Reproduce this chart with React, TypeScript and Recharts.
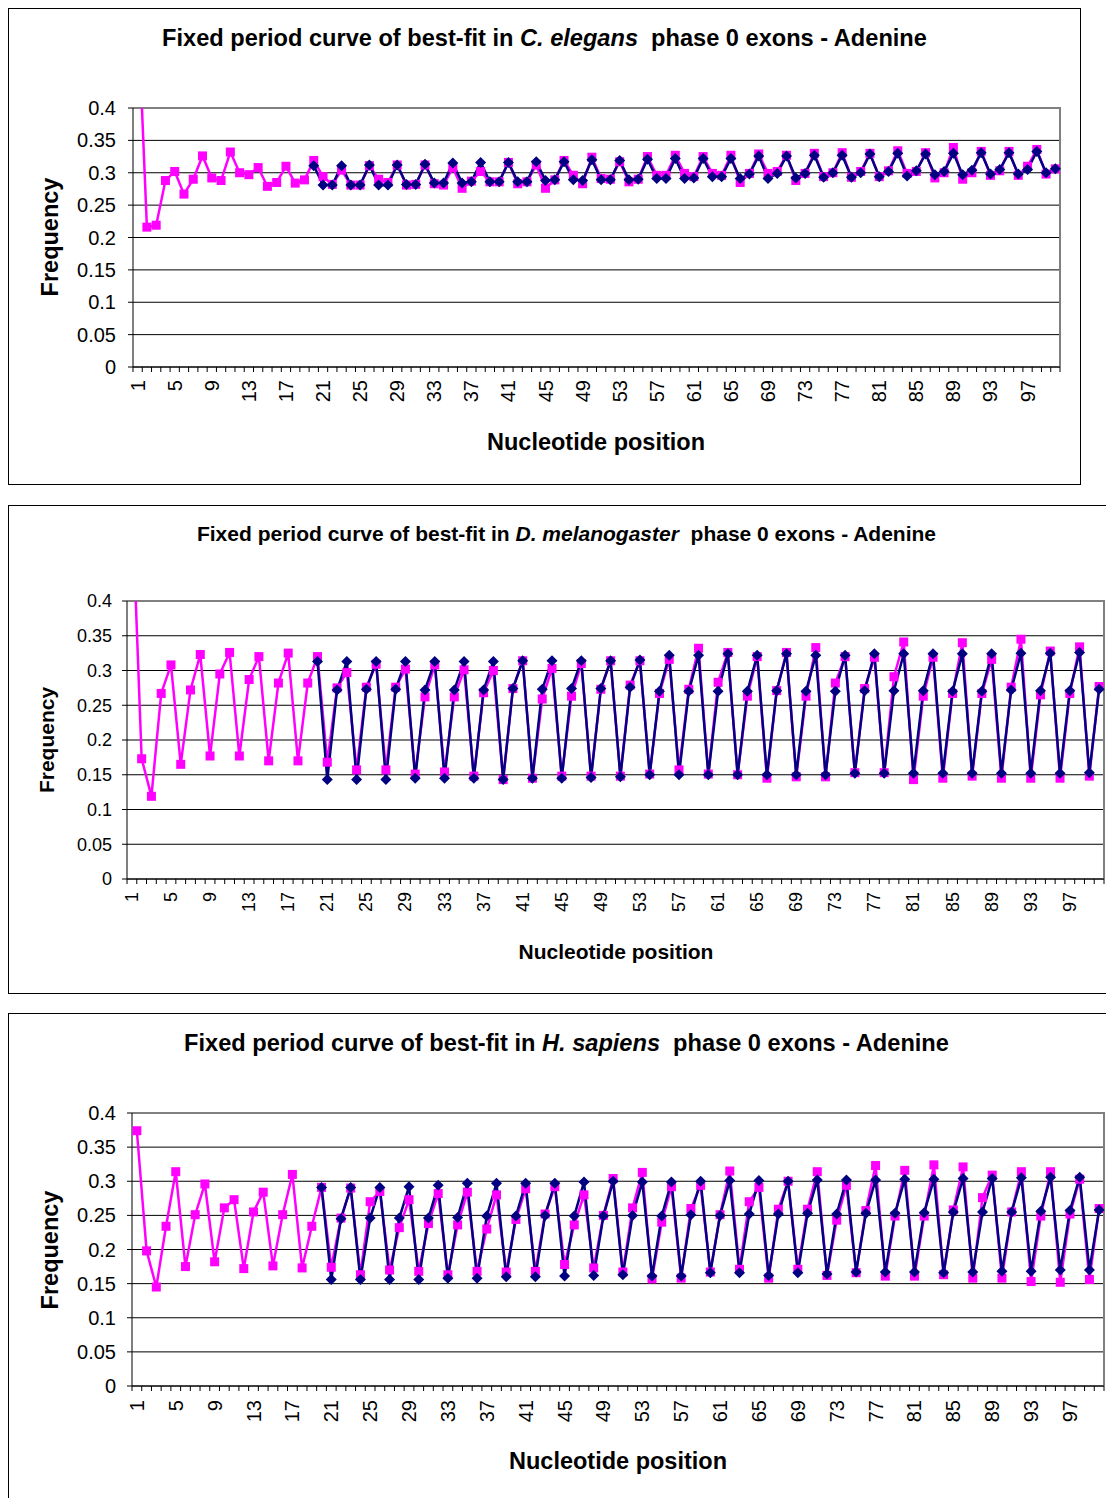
import { CartesianGrid, Line, LineChart, ReferenceArea, XAxis, YAxis } from "recharts";

const positions = [
  1, 2, 3, 4, 5, 6, 7, 8, 9, 10, 11, 12, 13, 14, 15, 16, 17, 18, 19, 20,
  21, 22, 23, 24, 25, 26, 27, 28, 29, 30, 31, 32, 33, 34, 35, 36, 37, 38, 39, 40,
  41, 42, 43, 44, 45, 46, 47, 48, 49, 50, 51, 52, 53, 54, 55, 56, 57, 58, 59, 60,
  61, 62, 63, 64, 65, 66, 67, 68, 69, 70, 71, 72, 73, 74, 75, 76, 77, 78, 79, 80,
  81, 82, 83, 84, 85, 86, 87, 88, 89, 90, 91, 92, 93, 94, 95, 96, 97, 98, 99, 100,
];

const yTicks = [0, 0.05, 0.1, 0.15, 0.2, 0.25, 0.3, 0.35, 0.4];

// observed frequency, positions 1..100
const elegansObserved = [
  0.56, 0.216, 0.219, 0.288, 0.302, 0.267, 0.29, 0.326, 0.292, 0.288,
  0.332, 0.3, 0.297, 0.308, 0.279, 0.285, 0.31, 0.284, 0.289, 0.319,
  0.294, 0.282, 0.304, 0.281, 0.281, 0.311, 0.29, 0.285, 0.312, 0.281,
  0.282, 0.312, 0.283, 0.281, 0.308, 0.276, 0.287, 0.302, 0.286, 0.286,
  0.316, 0.283, 0.286, 0.312, 0.276, 0.289, 0.319, 0.296, 0.283, 0.324,
  0.291, 0.29, 0.317, 0.286, 0.29, 0.325, 0.296, 0.296, 0.327, 0.299,
  0.294, 0.325, 0.299, 0.296, 0.327, 0.285, 0.299, 0.329, 0.299, 0.302,
  0.327, 0.288, 0.299, 0.33, 0.294, 0.3, 0.331, 0.293, 0.302, 0.33,
  0.294, 0.303, 0.334, 0.299, 0.302, 0.331, 0.292, 0.3, 0.339, 0.29,
  0.3, 0.333, 0.296, 0.303, 0.333, 0.296, 0.31, 0.336, 0.298, 0.306,
];

// best-fit curve, positions 20..100
const elegansFit = [
  0.311, 0.281, 0.281, 0.311, 0.281, 0.281, 0.312, 0.281, 0.281,
  0.312, 0.282, 0.282, 0.313, 0.284, 0.284, 0.315, 0.284, 0.286,
  0.316, 0.286, 0.286, 0.316, 0.286, 0.286, 0.317, 0.288, 0.289,
  0.317, 0.289, 0.288, 0.32, 0.289, 0.289, 0.319, 0.289, 0.29,
  0.321, 0.291, 0.291, 0.322, 0.291, 0.292, 0.322, 0.294, 0.294,
  0.322, 0.291, 0.298, 0.326, 0.291, 0.299, 0.326, 0.292, 0.299,
  0.327, 0.293, 0.3, 0.327, 0.293, 0.3, 0.329, 0.294, 0.302,
  0.33, 0.295, 0.303, 0.329, 0.297, 0.302, 0.33, 0.297, 0.304,
  0.331, 0.298, 0.305, 0.331, 0.298, 0.305, 0.333, 0.3, 0.306,
];

const melanogasterObserved = [
  0.55, 0.173, 0.119, 0.267, 0.308, 0.165, 0.272, 0.323, 0.177, 0.295,
  0.326, 0.177, 0.287, 0.32, 0.17, 0.282, 0.325, 0.17, 0.282, 0.32,
  0.168, 0.275, 0.297, 0.157, 0.276, 0.309, 0.157, 0.276, 0.302, 0.151,
  0.262, 0.308, 0.154, 0.262, 0.301, 0.148, 0.268, 0.3, 0.143, 0.274,
  0.314, 0.145, 0.259, 0.303, 0.148, 0.263, 0.31, 0.148, 0.273, 0.314,
  0.148, 0.279, 0.314, 0.151, 0.267, 0.316, 0.157, 0.273, 0.332, 0.151,
  0.283, 0.326, 0.15, 0.263, 0.32, 0.145, 0.271, 0.326, 0.147, 0.263,
  0.333, 0.147, 0.282, 0.32, 0.153, 0.274, 0.319, 0.153, 0.291, 0.341,
  0.143, 0.263, 0.319, 0.145, 0.267, 0.34, 0.148, 0.267, 0.316, 0.145,
  0.276, 0.345, 0.145, 0.265, 0.328, 0.145, 0.267, 0.334, 0.148, 0.277,
];

const melanogasterFit = [
  0.313, 0.143, 0.272, 0.313, 0.143, 0.273, 0.313, 0.143, 0.273,
  0.313, 0.145, 0.272, 0.313, 0.145, 0.272, 0.313, 0.145, 0.272,
  0.313, 0.143, 0.274, 0.314, 0.145, 0.273, 0.314, 0.145, 0.274,
  0.314, 0.146, 0.274, 0.314, 0.147, 0.276, 0.315, 0.15, 0.27,
  0.322, 0.15, 0.27, 0.322, 0.15, 0.27, 0.324, 0.15, 0.27,
  0.322, 0.15, 0.271, 0.324, 0.15, 0.27, 0.322, 0.15, 0.27,
  0.322, 0.152, 0.271, 0.324, 0.152, 0.271, 0.324, 0.152, 0.271,
  0.324, 0.152, 0.27, 0.324, 0.152, 0.27, 0.324, 0.152, 0.272,
  0.325, 0.152, 0.271, 0.325, 0.152, 0.271, 0.326, 0.153, 0.273,
];

const sapiensObserved = [
  0.374, 0.198, 0.145, 0.234, 0.314, 0.175, 0.251, 0.296, 0.182, 0.261,
  0.273, 0.172, 0.255, 0.284, 0.176, 0.251, 0.31, 0.173, 0.234, 0.291,
  0.174, 0.246, 0.29, 0.163, 0.27, 0.285, 0.17, 0.232, 0.273, 0.168,
  0.238, 0.282, 0.163, 0.236, 0.284, 0.168, 0.23, 0.28, 0.167, 0.244,
  0.289, 0.168, 0.252, 0.292, 0.178, 0.236, 0.28, 0.173, 0.25, 0.304,
  0.167, 0.261, 0.313, 0.157, 0.24, 0.292, 0.158, 0.26, 0.294, 0.167,
  0.251, 0.315, 0.171, 0.27, 0.291, 0.158, 0.259, 0.3, 0.171, 0.259,
  0.314, 0.162, 0.243, 0.294, 0.166, 0.257, 0.323, 0.161, 0.249, 0.316,
  0.161, 0.249, 0.324, 0.163, 0.258, 0.321, 0.158, 0.276, 0.309, 0.158,
  0.255, 0.314, 0.153, 0.249, 0.314, 0.152, 0.252, 0.303, 0.156, 0.26,
];

const sapiensFit = [
  0.291, 0.156, 0.245, 0.291, 0.156, 0.246, 0.291, 0.156, 0.246,
  0.292, 0.156, 0.246, 0.294, 0.158, 0.247, 0.297, 0.158, 0.249,
  0.297, 0.16, 0.249, 0.297, 0.16, 0.25, 0.297, 0.161, 0.249,
  0.299, 0.162, 0.249, 0.3, 0.163, 0.25, 0.299, 0.161, 0.249,
  0.299, 0.161, 0.251, 0.3, 0.166, 0.25, 0.301, 0.166, 0.252,
  0.301, 0.162, 0.252, 0.3, 0.166, 0.253, 0.302, 0.164, 0.252,
  0.302, 0.167, 0.253, 0.302, 0.167, 0.253, 0.303, 0.167, 0.254,
  0.303, 0.166, 0.255, 0.304, 0.167, 0.255, 0.304, 0.168, 0.255,
  0.305, 0.168, 0.256, 0.306, 0.17, 0.257, 0.306, 0.17, 0.258,
];

const FONT = "'Liberation Sans', Arial, Helvetica, sans-serif";
const PINK = "#FF00FF";
const NAVY = "#000080";

function buildRows(observed: number[], fit: number[]) {
  const fitStart = positions.length - fit.length;
  return positions.map((pos, i) => ({
    pos,
    observed: observed[i],
    fit: i >= fitStart ? fit[i - fitStart] : null,
  }));
}

function squareDot(p: any) {
  if (p.cy == null || p.value == null) return <g key={`s${p.index}`} />;
  return <rect key={`s${p.index}`} x={p.cx - 4.5} y={p.cy - 4.5} width={9} height={9} fill={PINK} />;
}

function diamondDot(p: any) {
  if (p.cy == null || p.value == null) return <g key={`d${p.index}`} />;
  const r = 5.5;
  const pts = `${p.cx},${p.cy - r} ${p.cx + r},${p.cy} ${p.cx},${p.cy + r} ${p.cx - r},${p.cy}`;
  return <polygon key={`d${p.index}`} points={pts} fill={NAVY} />;
}

// gray plot-area border on the top and right sides, as Excel draws it
function plotFrame(p: any) {
  const { x, y, width, height } = p;
  return (
    <path
      d={`M${x},${y} H${x + width} V${y + height}`}
      fill="none"
      stroke="#808080"
      strokeWidth={2}
    />
  );
}

function PositionTick(props: any) {
  const { x, y, payload, index, fontSize, gap } = props;
  const half = payload.offset ?? 4.8;
  return (
    <g>
      <line x1={x - half} x2={x - half} y1={y} y2={y + 5} stroke="#000" />
      {index === positions.length - 1 && (
        <line x1={x + half} x2={x + half} y1={y} y2={y + 5} stroke="#000" />
      )}
      {index % 4 === 0 && (
        <text
          transform={`translate(${x},${y + gap}) rotate(-90)`}
          textAnchor="end"
          dominantBaseline="central"
          fontSize={fontSize}
          fontFamily={FONT}
          fill="#000"
        >
          {payload.value}
        </text>
      )}
    </g>
  );
}

type PanelProps = {
  top: number;
  width: number;
  height: number;
  species: string;
  observed: number[];
  fit: number[];
  chartWidth: number;
  chartHeight: number;
  margin: { top: number; right: number; bottom: number; left: number };
  titleFont: number;
  labelFont: number;
  tickFont: number;
  yGap: number;
  xGap: number;
  titlePos: [number, number];
  yLabelPos: [number, number];
  xLabelPos: [number, number];
};

function Panel(p: PanelProps) {
  const rows = buildRows(p.observed, p.fit);
  return (
    <div
      style={{
        position: "absolute",
        left: 0,
        top: p.top,
        width: p.width,
        height: p.height,
        boxSizing: "border-box",
        border: "1px solid #000",
        background: "#fff",
        fontFamily: FONT,
        color: "#000",
      }}
    >
      <div
        style={{
          position: "absolute",
          left: p.titlePos[0],
          top: p.titlePos[1],
          transform: "translate(-50%, -50%)",
          whiteSpace: "pre",
          fontWeight: "bold",
          fontSize: p.titleFont,
        }}
      >
        {"Fixed period curve of best-fit in "}
        <i>{p.species}</i>
        {"  phase 0 exons - Adenine"}
      </div>
      <div
        style={{
          position: "absolute",
          left: p.yLabelPos[0],
          top: p.yLabelPos[1],
          transform: "translate(-50%, -50%) rotate(-90deg)",
          whiteSpace: "nowrap",
          fontWeight: "bold",
          fontSize: p.labelFont,
        }}
      >
        Frequency
      </div>
      <div
        style={{
          position: "absolute",
          left: p.xLabelPos[0],
          top: p.xLabelPos[1],
          transform: "translate(-50%, -50%)",
          whiteSpace: "nowrap",
          fontWeight: "bold",
          fontSize: p.labelFont,
        }}
      >
        Nucleotide position
      </div>
      <div style={{ position: "absolute", left: 0, top: 0 }}>
        <LineChart width={p.chartWidth} height={p.chartHeight} data={rows} margin={p.margin}>
          <CartesianGrid vertical={false} stroke="#000" />
          <ReferenceArea y1={0} y2={0.4} fill="none" shape={plotFrame} />
          <XAxis
            dataKey="pos"
            scale="band"
            interval={0}
            height={40}
            tickSize={0}
            tickMargin={0}
            tickLine={false}
            axisLine={{ stroke: "#000" }}
            tick={(t: any) => <PositionTick {...t} fontSize={p.tickFont} gap={p.xGap} />}
          />
          <YAxis
            domain={[0, 0.4]}
            ticks={yTicks}
            interval={0}
            allowDataOverflow
            width={60}
            tickSize={5}
            tickMargin={p.yGap}
            axisLine={{ stroke: "#000" }}
            tickLine={{ stroke: "#000" }}
            tick={{ fill: "#000", fontSize: p.tickFont, fontFamily: FONT }}
            tickFormatter={(v: number) => String(v)}
          />
          <Line
            type="linear"
            dataKey="observed"
            name="Observed"
            stroke={PINK}
            strokeWidth={2.5}
            dot={squareDot}
            activeDot={false}
            isAnimationActive={false}
          />
          <Line
            type="linear"
            dataKey="fit"
            name="Best-fit"
            stroke={NAVY}
            strokeWidth={2.5}
            dot={diamondDot}
            activeDot={false}
            isAnimationActive={false}
          />
        </LineChart>
      </div>
    </div>
  );
}

export default function App() {
  return (
    <div style={{ position: "relative", width: 1106, height: 1490, overflow: "hidden" }}>
      <Panel
        top={0}
        width={1073}
        height={477}
        species="C. elegans"
        observed={elegansObserved}
        fit={elegansFit}
        chartWidth={1071}
        chartHeight={475}
        margin={{ top: 99, right: 20, bottom: 77, left: 64 }}
        titleFont={23.6}
        labelFont={23.5}
        tickFont={20}
        yGap={12}
        xGap={13}
        titlePos={[535.5, 29]}
        yLabelPos={[41, 228]}
        xLabelPos={[587, 433]}
      />
      <Panel
        top={497}
        width={1130}
        height={489}
        species="D. melanogaster"
        observed={melanogasterObserved}
        fit={melanogasterFit}
        chartWidth={1110}
        chartHeight={487}
        margin={{ top: 95, right: 15, bottom: 74, left: 58 }}
        titleFont={21}
        labelFont={21}
        tickFont={18}
        yGap={10}
        xGap={13}
        titlePos={[557.5, 28]}
        yLabelPos={[38, 234]}
        xLabelPos={[607, 446]}
      />
      <Panel
        top={1005}
        width={1130}
        height={510}
        species="H. sapiens"
        observed={sapiensObserved}
        fit={sapiensFit}
        chartWidth={1110}
        chartHeight={498}
        margin={{ top: 99, right: 15, bottom: 86, left: 63 }}
        titleFont={23.6}
        labelFont={23.5}
        tickFont={20}
        yGap={11}
        xGap={14}
        titlePos={[557.5, 29]}
        yLabelPos={[41, 236]}
        xLabelPos={[609, 447]}
      />
    </div>
  );
}
